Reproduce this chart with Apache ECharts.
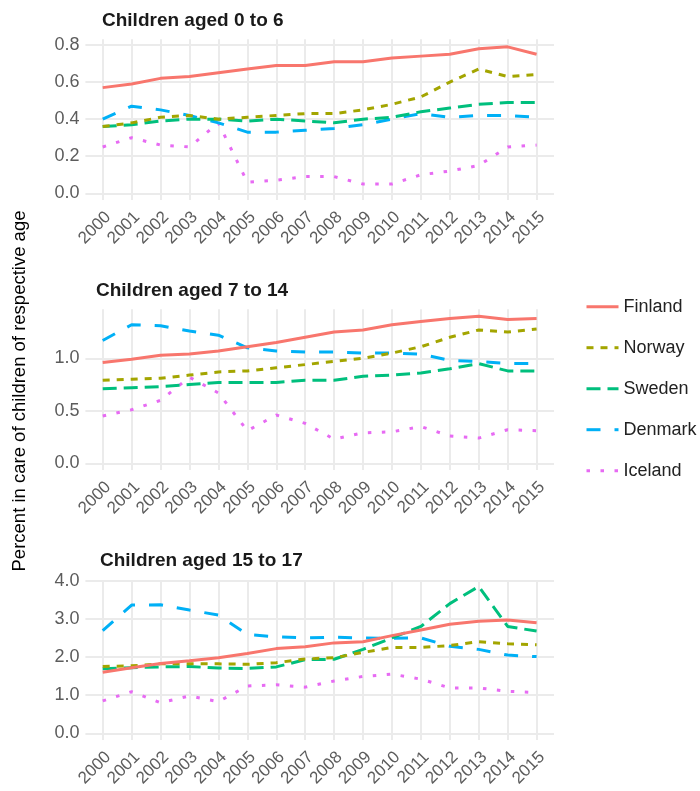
<!DOCTYPE html>
<html>
<head>
<meta charset="utf-8">
<script src="https://cdn.jsdelivr.net/npm/echarts@6/dist/echarts.min.js"></script>
<style>
  html, body { margin: 0; padding: 0; background: #ffffff; }
  #chart { width: 700px; height: 791px; }
</style>
</head>
<body>
<div id="chart"></div>
<script>
// ---- data -------------------------------------------------------------
const years = ['2000','2001','2002','2003','2004','2005','2006','2007',
               '2008','2009','2010','2011','2012','2013','2014','2015'];
const countries = ['Finland', 'Norway', 'Sweden', 'Denmark', 'Iceland'];
const panelTitles = ['Children aged 0 to 6', 'Children aged 7 to 14', 'Children aged 15 to 17'];

// percent of children in care, ages 0-6
const finlandAge0to6 = [0.57,0.59,0.62,0.63,0.65,0.67,0.69,0.69,0.71,0.71,0.73,0.74,0.75,0.78,0.79,0.75];
const norwayAge0to6  = [0.36,0.38,0.41,0.42,0.40,0.41,0.42,0.43,0.43,0.45,0.48,0.52,0.60,0.67,0.63,0.64];
const swedenAge0to6  = [0.36,0.37,0.39,0.40,0.40,0.39,0.40,0.39,0.38,0.40,0.41,0.44,0.46,0.48,0.49,0.49];
const denmarkAge0to6 = [0.40,0.47,0.45,0.42,0.38,0.33,0.33,0.34,0.35,0.37,0.40,0.43,0.41,0.42,0.42,0.41];
const icelandAge0to6 = [0.25,0.30,0.26,0.25,0.38,0.06,0.07,0.09,0.09,0.05,0.05,0.10,0.12,0.15,0.25,0.26];

// ages 7-14
const finlandAge7to14 = [0.96,0.99,1.03,1.04,1.07,1.11,1.15,1.20,1.25,1.27,1.32,1.35,1.38,1.40,1.37,1.38];
const norwayAge7to14  = [0.79,0.80,0.81,0.84,0.87,0.88,0.91,0.94,0.97,1.00,1.05,1.11,1.20,1.27,1.25,1.28];
const swedenAge7to14  = [0.71,0.72,0.73,0.75,0.77,0.77,0.77,0.79,0.79,0.83,0.84,0.86,0.90,0.95,0.88,0.88];
const denmarkAge7to14 = [1.17,1.32,1.31,1.26,1.22,1.10,1.07,1.06,1.06,1.05,1.05,1.04,0.98,0.97,0.95,0.95];
const icelandAge7to14 = [0.45,0.51,0.60,0.82,0.67,0.31,0.46,0.38,0.23,0.29,0.30,0.35,0.26,0.24,0.32,0.31];

// ages 15-17
const finlandAge15to17 = [1.60,1.72,1.83,1.90,1.98,2.09,2.22,2.27,2.37,2.40,2.56,2.71,2.86,2.94,2.97,2.90];
const norwayAge15to17  = [1.75,1.77,1.82,1.82,1.82,1.81,1.85,1.95,1.98,2.12,2.25,2.25,2.30,2.40,2.35,2.32];
const swedenAge15to17  = [1.69,1.72,1.74,1.75,1.71,1.70,1.74,1.93,1.94,2.20,2.50,2.80,3.40,3.85,2.80,2.68];
const denmarkAge15to17 = [2.69,3.36,3.37,3.23,3.10,2.59,2.53,2.50,2.52,2.50,2.49,2.50,2.28,2.20,2.05,2.01];
const icelandAge15to17 = [0.85,1.09,0.80,0.98,0.83,1.24,1.27,1.21,1.37,1.49,1.55,1.42,1.19,1.19,1.10,1.07];

// y-axis tick settings per panel
const yMax      = [0.8, 1.0, 4.0];
const yInterval = [0.2, 0.5, 1.0];

// ---- styling ----------------------------------------------------------
const seriesColors = ['#F8766D', '#A3A500', '#00BF7D', '#00B0F6', '#E76BF3'];
const dashPatterns = ['solid', [7, 7], [14, 7], [14, 14], [3.5, 10.5]];
const gridColor = '#EBEBEB';
const textGrey = '#5c5c5c';
const fontFamily = '"Liberation Sans", Arial, Helvetica, sans-serif';

const panelData = [
  [finlandAge0to6, norwayAge0to6, swedenAge0to6, denmarkAge0to6, icelandAge0to6],
  [finlandAge7to14, norwayAge7to14, swedenAge7to14, denmarkAge7to14, icelandAge7to14],
  [finlandAge15to17, norwayAge15to17, swedenAge15to17, denmarkAge15to17, icelandAge15to17]
];

// panel geometry (pixels)
const W = 700;
const catLeft = 102.7, catRight = 536.6;     // first / last year
const hLeft = 85.4, hRight = 554;            // horizontal grid line extent
const labelShift = 5.5;                      // year labels sit slightly right of their tick
const layout = [
  { vTop: 39.3,  vBot: 200,   yTop: 45,    yZero: 193.3, titleX: 102, titleY: 11.5 },
  { vTop: 309.3, vBot: 470,   yTop: 358.3, yZero: 463.3, titleX: 96,  titleY: 281.5 },
  { vTop: 580,   vBot: 740,   yTop: 580.7, yZero: 733.3, titleX: 100, titleY: 551.5 }
];

const grids = [], xAxes = [], yAxes = [], series = [], titles = [];
const gridBase = { containLabel: false, outerBoundsMode: 'none' };

layout.forEach((L, p) => {
  const base = grids.length;
  // grid 0: vertical grid lines
  grids.push({ ...gridBase, left: catLeft, right: W - catRight, top: L.vTop, height: L.vBot - L.vTop });
  // grid 1: horizontal grid lines + value labels
  grids.push({ ...gridBase, left: hLeft, right: W - hRight, top: L.yTop, height: L.yZero - L.yTop });
  // grid 2: the data lines
  grids.push({ ...gridBase, left: catLeft, right: W - catRight, top: L.yTop, height: L.yZero - L.yTop });
  // grid 3: year labels
  grids.push({ ...gridBase, left: catLeft + labelShift, right: W - catRight - labelShift,
               top: L.vTop, height: L.vBot - L.vTop });

  xAxes.push({
    gridIndex: base, type: 'category', data: years, boundaryGap: false,
    axisLine: { show: false }, axisTick: { show: false }, axisLabel: { show: false },
    splitLine: { show: true, interval: 0, lineStyle: { color: gridColor, width: 2 } }
  });
  yAxes.push({ gridIndex: base, type: 'value', show: false, min: 0, max: 1 });

  xAxes.push({ gridIndex: base + 1, type: 'value', show: false, min: 0, max: 1 });
  yAxes.push({
    gridIndex: base + 1, type: 'value', min: 0, max: yMax[p], interval: yInterval[p],
    axisLine: { show: false }, axisTick: { show: false },
    splitLine: { show: true, lineStyle: { color: gridColor, width: 2 } },
    axisLabel: { margin: 6, color: textGrey, fontSize: 18, fontFamily,
                 formatter: v => v.toFixed(1) }
  });

  xAxes.push({ gridIndex: base + 2, type: 'category', data: years, boundaryGap: false, show: false });
  yAxes.push({ gridIndex: base + 2, type: 'value', min: 0, max: yMax[p], show: false });

  xAxes.push({
    gridIndex: base + 3, type: 'category', data: years, boundaryGap: false,
    axisLine: { show: false }, axisTick: { show: false }, splitLine: { show: false },
    axisLabel: { interval: 0, rotate: 45, margin: 14.5, color: textGrey, fontSize: 17, fontFamily }
  });
  yAxes.push({ gridIndex: base + 3, type: 'value', show: false, min: 0, max: 1 });

  countries.forEach((name, i) => {
    series.push({
      name, type: 'line', xAxisIndex: base + 2, yAxisIndex: base + 2,
      data: panelData[p][i], symbol: 'none', showSymbol: false, clip: false,
      color: seriesColors[i],
      lineStyle: { color: seriesColors[i], width: 3, type: dashPatterns[i], cap: 'butt' },
      emphasis: { disabled: true }, z: 10 - i
    });
  });

  titles.push({
    text: panelTitles[p], left: L.titleX, top: L.titleY, padding: 0,
    textStyle: { fontFamily, fontSize: 19, fontWeight: 'bold', color: '#1a1a1a' }
  });
});

const chart = echarts.init(document.getElementById('chart'), null, { renderer: 'canvas' });
chart.setOption({
  animation: false,
  backgroundColor: '#ffffff',
  title: titles,
  grid: grids,
  xAxis: xAxes,
  yAxis: yAxes,
  series,
  legend: {
    data: countries, orient: 'vertical', left: 585, top: 297.7, padding: 0,
    itemWidth: 32, itemHeight: 14, itemGap: 23,
    itemStyle: { opacity: 0 },
    lineStyle: { width: 3 },
    textStyle: { fontFamily, fontSize: 18, color: '#222222' },
    inactiveColor: '#ccc'
  },
  graphic: [{
    type: 'text', x: 20, y: 391, rotation: Math.PI / 2,
    style: {
      text: '{a|Percent }{b|in care}{a| of children of respective age}',
      align: 'center', verticalAlign: 'middle',
      fontFamily, fontSize: 18.5,
      rich: {
        a: { fontFamily, fontSize: 18.5, color: '#3a3a3a' },
        b: { fontFamily, fontSize: 18.5, color: '#000000' }
      }
    }
  }]
});
</script>
</body>
</html>
